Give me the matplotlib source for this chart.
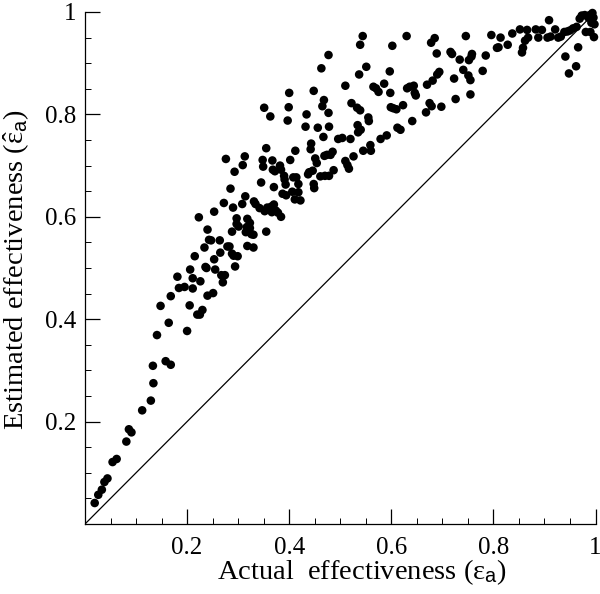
import matplotlib
matplotlib.use("Agg")
import matplotlib.pyplot as plt
from matplotlib.ticker import MultipleLocator, FixedLocator

plt.rcParams['font.family'] = 'serif'
plt.rcParams['font.serif'] = ['Liberation Serif', 'STIXGeneral', 'DejaVu Serif']
plt.rcParams['mathtext.fontset'] = 'custom'
plt.rcParams['mathtext.rm'] = 'Liberation Serif'
plt.rcParams['mathtext.it'] = 'Liberation Serif:italic'
plt.rcParams['mathtext.bf'] = 'Liberation Serif:bold'
plt.rcParams['mathtext.sf'] = 'Liberation Sans'

actual = [
    0.019, 0.026, 0.033, 0.038, 0.044, 0.054, 0.062, 0.081, 0.086, 0.091,
    0.112, 0.129, 0.134, 0.133, 0.141, 0.158, 0.168, 0.148, 0.164, 0.168,
    0.181, 0.184, 0.195, 0.200, 0.205, 0.206, 0.211, 0.211, 0.215, 0.220,
    0.223, 0.225, 0.226, 0.230, 0.234, 0.236, 0.238, 0.240, 0.240, 0.243,
    0.247, 0.251, 0.253, 0.255, 0.253, 0.264, 0.265, 0.267, 0.270, 0.272,
    0.274, 0.276, 0.279, 0.283, 0.285, 0.288, 0.288, 0.290, 0.291, 0.293,
    0.294, 0.297, 0.297, 0.299, 0.301, 0.308, 0.309, 0.313, 0.314, 0.315,
    0.317, 0.318, 0.318, 0.323, 0.323, 0.326, 0.330, 0.330, 0.331, 0.334,
    0.342, 0.345, 0.348, 0.349, 0.351, 0.352, 0.355, 0.355, 0.357, 0.363,
    0.365, 0.366, 0.367, 0.368, 0.370, 0.370, 0.372, 0.374, 0.378, 0.382,
    0.384, 0.384, 0.387, 0.390, 0.391, 0.393, 0.394, 0.397, 0.399, 0.400,
    0.402, 0.406, 0.408, 0.411, 0.412, 0.414, 0.418, 0.418, 0.422, 0.432,
    0.434, 0.437, 0.439, 0.442, 0.443, 0.446, 0.448, 0.448, 0.449, 0.451,
    0.454, 0.456, 0.461, 0.463, 0.465, 0.467, 0.468, 0.469, 0.470, 0.474,
    0.477, 0.478, 0.477, 0.478, 0.481, 0.485, 0.487, 0.496, 0.504, 0.510,
    0.510, 0.514, 0.517, 0.520, 0.522, 0.526, 0.533, 0.534, 0.535, 0.537,
    0.539, 0.539, 0.540, 0.544, 0.545, 0.551, 0.555, 0.556, 0.559, 0.560,
    0.565, 0.570, 0.575, 0.579, 0.586, 0.591, 0.597, 0.598, 0.599, 0.602,
    0.604, 0.610, 0.612, 0.618, 0.623, 0.630, 0.631, 0.636, 0.641, 0.644,
    0.646, 0.648, 0.668, 0.670, 0.675, 0.678, 0.679, 0.681, 0.685, 0.689,
    0.690, 0.694, 0.698, 0.716, 0.719, 0.723, 0.726, 0.734, 0.741, 0.746,
    0.751, 0.752, 0.755, 0.755, 0.757, 0.758, 0.779, 0.785, 0.796, 0.807,
    0.810, 0.814, 0.828, 0.837, 0.852, 0.856, 0.858, 0.862, 0.866, 0.868,
    0.883, 0.888, 0.895, 0.906, 0.909, 0.912, 0.921, 0.927, 0.932, 0.939,
    0.941, 0.945, 0.948, 0.950, 0.956, 0.962, 0.963, 0.966, 0.969, 0.973,
    0.979, 0.981, 0.986, 0.989, 0.990, 0.994, 0.996, 0.997, 0.998, 0.992,
]
estimated = [
    0.041, 0.057, 0.067, 0.082, 0.089, 0.121, 0.127, 0.161, 0.185, 0.179,
    0.222, 0.241, 0.275, 0.309, 0.369, 0.318, 0.311, 0.426, 0.393, 0.445,
    0.483, 0.461, 0.463, 0.377, 0.427, 0.497, 0.480, 0.460, 0.523, 0.409,
    0.599, 0.409, 0.474, 0.418, 0.540, 0.502, 0.500, 0.575, 0.446, 0.555,
    0.554, 0.451, 0.610, 0.497, 0.517, 0.554, 0.530, 0.486, 0.472, 0.627,
    0.486, 0.713, 0.542, 0.542, 0.655, 0.571, 0.528, 0.618, 0.524, 0.688,
    0.503, 0.597, 0.586, 0.523, 0.581, 0.625, 0.701, 0.718, 0.640, 0.570,
    0.580, 0.543, 0.596, 0.588, 0.578, 0.566, 0.540, 0.565, 0.630, 0.625,
    0.617, 0.667, 0.711, 0.698, 0.813, 0.611, 0.734, 0.571, 0.618, 0.796,
    0.620, 0.609, 0.710, 0.692, 0.658, 0.624, 0.689, 0.612, 0.608, 0.700,
    0.692, 0.600, 0.645, 0.680, 0.673, 0.663, 0.642, 0.788, 0.814, 0.842,
    0.711, 0.649, 0.677, 0.634, 0.729, 0.677, 0.664, 0.648, 0.632, 0.776,
    0.800, 0.683, 0.687, 0.732, 0.743, 0.690, 0.846, 0.664, 0.656, 0.714,
    0.705, 0.774, 0.679, 0.890, 0.816, 0.756, 0.828, 0.719, 0.680, 0.721,
    0.803, 0.776, 0.916, 0.680, 0.721, 0.727, 0.691, 0.752, 0.754, 0.856,
    0.709, 0.701, 0.694, 0.752, 0.822, 0.718, 0.813, 0.779, 0.765, 0.878,
    0.808, 0.936, 0.770, 0.953, 0.729, 0.893, 0.794, 0.787, 0.740, 0.729,
    0.854, 0.851, 0.844, 0.752, 0.860, 0.759, 0.884, 0.842, 0.814, 0.934,
    0.812, 0.810, 0.774, 0.770, 0.818, 0.953, 0.851, 0.854, 0.787, 0.856,
    0.842, 0.837, 0.804, 0.858, 0.822, 0.940, 0.816, 0.866, 0.949, 0.919,
    0.878, 0.883, 0.815, 0.922, 0.918, 0.870, 0.830, 0.907, 0.887, 0.953,
    0.876, 0.906, 0.839, 0.867, 0.913, 0.918, 0.885, 0.915, 0.955, 0.930,
    0.931, 0.950, 0.936, 0.958, 0.966, 0.921, 0.930, 0.944, 0.965, 0.950,
    0.966, 0.950, 0.965, 0.950, 0.984, 0.952, 0.966, 0.950, 0.952, 0.961,
    0.913, 0.962, 0.880, 0.964, 0.968, 0.894, 0.971, 0.931, 0.987, 0.993,
    0.994, 0.961, 0.989, 0.994, 0.961, 0.998, 0.989, 0.951, 0.976, 0.979,
]

x_ticks = [0.2, 0.4, 0.6, 0.8, 1.0]
x_tick_labels = ['0.2', '0.4', '0.6', '0.8', '1']
y_ticks = [0.2, 0.4, 0.6, 0.8, 1.0]
y_tick_labels = ['0.2', '0.4', '0.6', '0.8', '1']
parity = [0.0, 1.0]

fig = plt.figure(figsize=(6.0, 5.94), dpi=100)
ax = fig.add_axes([85 / 600, 70 / 594, 510.5 / 600, 512 / 594])

ax.plot(parity, parity, color='black', lw=0.9, zorder=1)
ax.scatter(actual, estimated, s=38, color='black', edgecolors='none',
           zorder=3, clip_on=False)

ax.set_xlim(0, 1)
ax.set_ylim(0, 1)
for s in ['top', 'right']:
    ax.spines[s].set_visible(False)
for s in ['left', 'bottom']:
    ax.spines[s].set_linewidth(0.9)

ax.xaxis.set_major_locator(FixedLocator(x_ticks))
ax.set_xticklabels(x_tick_labels)
ax.yaxis.set_major_locator(FixedLocator(y_ticks))
ax.set_yticklabels(y_tick_labels)
ax.xaxis.set_minor_locator(MultipleLocator(0.05))
ax.yaxis.set_minor_locator(MultipleLocator(0.05))
ax.tick_params(which='major', direction='in', length=10.8, width=0.9,
               labelsize=18)
ax.tick_params(which='minor', direction='in', length=4, width=0.7)
ax.tick_params(axis='x', which='major', pad=9)
ax.tick_params(axis='y', which='major', pad=6)

ax.set_xlabel(r'Actual  effectiveness ($\mathrm{ε}_{\mathsf{a}}$)',
              fontsize=20.5, va='baseline')
ax.xaxis.set_label_coords(0.543, -0.1074)
ax.set_ylabel(r'Estimated effectiveness ($\hat{\mathrm{ε}}_{\mathsf{a}}$)',
              fontsize=20.5, va='baseline')
ax.yaxis.set_label_coords(-0.1195, 0.497)

fig.savefig('out.png', dpi=100)
